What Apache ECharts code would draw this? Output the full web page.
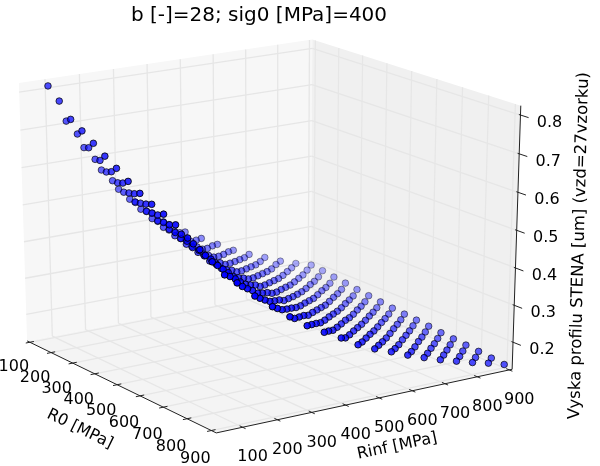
<!DOCTYPE html>
<html><head><meta charset="utf-8">
<style>html,body{margin:0;padding:0;background:#fff}#c{width:600px;height:466px}</style>
<script src="https://cdn.jsdelivr.net/npm/echarts@6/dist/echarts.min.js"></script>
</head><body><div id="c"></div>
<script>
const r0Values=[100,150,200,250,300,350,400,450,500,550,600,650,700,750,800,850,900];
const rinfValues=[100,150,200,250,300,350,400,450,500,550,600,650,700,750,800,850,900];
const heightRinf100=[.809,.780,.743,.724,.703,.681,.661,.639,.620,.604,.591,.576,.555,.538,.520,.500,.493];
const heightRinf150=[.709,.686,.661,.639,.621,.603,.587,.572,.556,.543,.531,.519,.502,.489,.474,.462,.451];
const heightRinf200=[.631,.611,.589,.572,.557,.542,.528,.516,.502,.492,.481,.471,.458,.446,.434,.423,.415];
const heightRinf250=[.563,.546,.527,.513,.500,.487,.477,.465,.454,.445,.436,.427,.416,.407,.396,.388,.380];
const heightRinf300=[.503,.488,.473,.460,.449,.439,.429,.420,.410,.403,.395,.388,.378,.370,.362,.353,.348];
const heightRinf350=[.459,.447,.432,.421,.411,.402,.394,.385,.378,.370,.364,.356,.349,.341,.334,.328,.322];
const heightRinf400=[.422,.410,.397,.387,.379,.369,.362,.355,.347,.342,.335,.329,.321,.315,.308,.302,.298];
const heightRinf450=[.382,.372,.360,.352,.343,.336,.329,.323,.316,.311,.305,.300,.293,.287,.281,.275,.271];
const heightRinf500=[.353,.343,.333,.324,.318,.310,.304,.298,.292,.288,.282,.278,.271,.266,.260,.255,.251];
const heightRinf550=[.327,.319,.308,.301,.294,.288,.282,.277,.271,.267,.262,.257,.252,.247,.242,.237,.234];
const heightRinf600=[.302,.294,.285,.278,.272,.266,.261,.255,.251,.246,.242,.239,.233,.229,.223,.219,.216];
const heightRinf650=[.277,.269,.262,.256,.250,.245,.240,.235,.230,.227,.223,.219,.215,.210,.206,.202,.200];
const heightRinf700=[.257,.250,.242,.237,.232,.227,.223,.218,.214,.210,.207,.203,.199,.196,.191,.188,.185];
const heightRinf750=[.240,.233,.226,.220,.216,.212,.207,.203,.199,.196,.192,.189,.185,.182,.178,.174,.172];
const heightRinf800=[.221,.215,.208,.203,.199,.195,.191,.187,.184,.180,.178,.174,.171,.167,.164,.161,.159];
const heightRinf850=[.206,.200,.194,.189,.185,.180,.177,.174,.170,.168,.165,.162,.158,.155,.152,.149,.148];
const heightRinf900=[.193,.190,.185,.181,.176,.172,.168,.164,.161,.158,.155,.151,.148,.145,.142,.138,.135];
const heightRows=[heightRinf100,heightRinf150,heightRinf200,heightRinf250,heightRinf300,heightRinf350,heightRinf400,heightRinf450,heightRinf500,heightRinf550,heightRinf600,heightRinf650,heightRinf700,heightRinf750,heightRinf800,heightRinf850,heightRinf900];
const r0Ticks=[100,200,300,400,500,600,700,800,900];
const rinfTicks=[100,200,300,400,500,600,700,800,900];
const zTicks=[0.2,0.3,0.4,0.5,0.6,0.7,0.8];
const titleText='b [-]=28; sig0 [MPa]=400';
const r0Title='R0 [MPa]', rinfTitle='Rinf [MPa]', zTitle='Vyska profilu STENA [um] (vzd=27vzorku)';

// view of the 3D box
const LIM={x:[87,920],y:[25,909],z:[0.126,0.824]};
const AZ=-34*Math.PI/180, EL=20*Math.PI/180, DIST=10;
const SX=3553,CX=266.6,SY=2774,CY=226.8;
const n=[Math.cos(AZ)*Math.cos(EL),Math.sin(AZ)*Math.cos(EL),Math.sin(EL)];
const uv=[-Math.sin(AZ),Math.cos(AZ),0];
const vv=[n[1]*uv[2]-n[2]*uv[1],n[2]*uv[0]-n[0]*uv[2],n[0]*uv[1]-n[1]*uv[0]];
function project(x,y,z){
  const d=[(x-LIM.x[0])/(LIM.x[1]-LIM.x[0])-.5,(y-LIM.y[0])/(LIM.y[1]-LIM.y[0])-.5,(z-LIM.z[0])/(LIM.z[1]-LIM.z[0])-.5];
  const dot=a=>a[0]*d[0]+a[1]*d[1]+a[2]*d[2];
  const ze=dot(n), w=DIST-ze;
  return {X:dot(uv)/w,Y:dot(vv)/w,ze};
}
const P=(x,y,z)=>{const p=project(x,y,z);return [p.X,p.Y];};
const [x0,x1]=LIM.x,[y0,y1]=LIM.y,[z0,z1]=LIM.z;

// scatter points, far ones first, shaded by depth
const pts=[];
rinfValues.forEach((rinf,i)=>r0Values.forEach((r0,j)=>pts.push(project(r0,rinf,heightRows[i][j]))));
const zes=pts.map(p=>p.ze),zeMin=Math.min(...zes),zeMax=Math.max(...zes);
pts.sort((a,b)=>a.ze-b.ze);
const scatterData=pts.map(p=>({value:[p.X,p.Y],itemStyle:{opacity:1-(zeMax-p.ze)/(zeMax-zeMin)*0.7}}));

// panes
const panes=[
 {c:'#f7f7f7',q:[P(x0,y0,z0),P(x0,y1,z0),P(x0,y1,z1),P(x0,y0,z1)]},
 {c:'#f0f0f0',q:[P(x0,y1,z0),P(x1,y1,z0),P(x1,y1,z1),P(x0,y1,z1)]},
 {c:'#f4f4f4',q:[P(x0,y0,z0),P(x1,y0,z0),P(x1,y1,z0),P(x0,y1,z0)]}
];
// grid lines
const gridSegs=[];
r0Ticks.forEach(t=>{gridSegs.push([P(t,y0,z0),P(t,y1,z0)],[P(t,y1,z0),P(t,y1,z1)]);});
rinfTicks.forEach(t=>{gridSegs.push([P(x1,t,z0),P(x0,t,z0)],[P(x0,t,z0),P(x0,t,z1)]);});
zTicks.forEach(t=>{gridSegs.push([P(x0,y0,t),P(x0,y1,t)],[P(x0,y1,t),P(x1,y1,t)]);});
// axis lines and ticks
const axisSegs=[[P(x0,y0,z0),P(x1,y0,z0)],[P(x1,y0,z0),P(x1,y1,z0)],[P(x1,y1,z0),P(x1,y1,z1)]];
r0Ticks.forEach(t=>axisSegs.push([P(t,y0-12,z0),P(t,y0+12,z0)]));
rinfTicks.forEach(t=>axisSegs.push([P(x1-12,t,z0),P(x1+12,t,z0)]));
zTicks.forEach(t=>axisSegs.push([P(x1-6,y1,t),P(x1+30,y1,t)]));
// texts
const texts=[];
r0Ticks.forEach(t=>texts.push({at:P(t,y0,z0),dx:-16,dy:24.5+(t-100)*.005,s:String(t),fs:16,rot:0}));
rinfTicks.forEach(t=>texts.push({at:P(x1,t,z0),dx:10,dy:30,s:String(t),fs:16,rot:0}));
zTicks.forEach(t=>texts.push({at:P(x1,y1,t),dx:29,dy:8,s:t.toFixed(1),fs:16,rot:0}));
texts.push({at:P((x0+x1)/2,y0,z0),dx:-38,dy:44,s:r0Title,fs:16,rot:-26*Math.PI/180});
texts.push({at:P(x1,(y0+y1)/2,z0),dx:29,dy:46,s:rinfTitle,fs:16,rot:12*Math.PI/180});
texts.push({at:P(x1,y1,(z0+z1)/2),dx:63,dy:6,s:zTitle,fs:16.5,rot:88.5*Math.PI/180});

function lineSeries(segs,color,width,z){
  return {type:'custom',coordinateSystem:'cartesian2d',silent:true,z,clip:false,
    data:segs.map(s=>[s[0][0],s[0][1],s[1][0],s[1][1]]),
    encode:{x:[0,2],y:[1,3]},
    renderItem:(p,api)=>{const a=api.coord([api.value(0),api.value(1)]),b=api.coord([api.value(2),api.value(3)]);
      return {type:'line',shape:{x1:a[0],y1:a[1],x2:b[0],y2:b[1]},style:{stroke:color,lineWidth:width,fill:null}};}};
}
const option={
  animation:false,backgroundColor:'#fff',
  title:{text:titleText,left:254,top:1,textAlign:'center',textStyle:{fontFamily:'DejaVu Sans',fontSize:20,fontWeight:'normal',color:'#000'}},
  grid:{left:0,right:0,top:0,bottom:0,containLabel:false},
  xAxis:{type:'value',show:false,min:(0-CX)/SX,max:(600-CX)/SX,scale:true},
  yAxis:{type:'value',show:false,min:(CY-466)/SY,max:CY/SY,scale:true},
  series:[
   {type:'custom',coordinateSystem:'cartesian2d',silent:true,z:1,clip:false,
    data:panes.map((q,i)=>[q.q[0][0],q.q[0][1],i]),encode:{x:0,y:1},
    renderItem:(p,api)=>{const q=panes[p.dataIndex];
      return {type:'polygon',shape:{points:q.q.map(c=>api.coord(c))},style:{fill:q.c,stroke:null}};}},
   lineSeries(gridSegs,'#e6e6e6',1.3,2),
   lineSeries(axisSegs,'#222',1,3),
   {type:'scatter',z:4,silent:true,clip:false,symbol:'circle',symbolSize:6.6,data:scatterData,
    itemStyle:{color:'#0000ff',borderColor:'#000',borderWidth:1},large:false,progressive:0},
   {type:'custom',coordinateSystem:'cartesian2d',silent:true,z:5,clip:false,
    data:texts.map(t=>t.at),encode:{x:0,y:1},
    renderItem:(p,api)=>{const t=texts[p.dataIndex],c=api.coord(t.at);
      return {type:'text',x:c[0]+t.dx,y:c[1]+t.dy,rotation:t.rot,
        style:{text:t.s,fontFamily:'DejaVu Sans',fontSize:t.fs,fill:'#000',align:'center',verticalAlign:'middle'}};}}
  ]
};
echarts.init(document.getElementById('c'),null,{renderer:'canvas'}).setOption(option);
</script></body></html>
